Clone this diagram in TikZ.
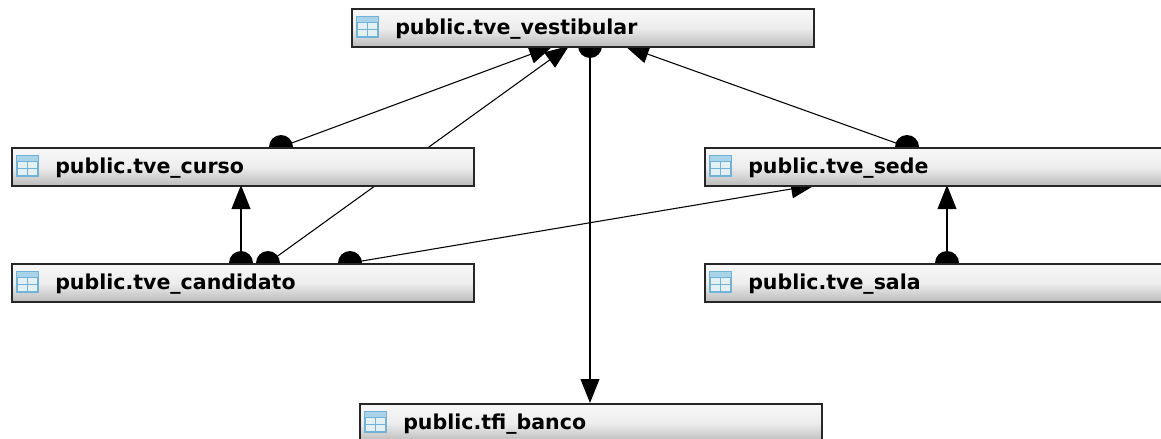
\documentclass[tikz,border=0pt]{standalone}
\usepackage{fontspec}
\setmainfont{DejaVu Sans}
\usetikzlibrary{arrows.meta,backgrounds,calc}
\definecolor{iconblue}{HTML}{6FB4D8}
\definecolor{iconfill}{HTML}{E4F0F2}
\definecolor{iconhead}{HTML}{A9D3E8}
\definecolor{edgecol}{HTML}{262626}
\tikzset{
  x=0.75pt,y=-0.75pt,
  tablebox/.style={draw=edgecol,line width=1.6pt,anchor=north west,rectangle,
    minimum height=28.5pt,minimum width=346.5pt,inner sep=0pt,
    top color=black!3,bottom color=black!27,middle color=black!7},
  tablelabel/.style={anchor=west,inner sep=0pt,text=black,
    font=\fontsize{15.4pt}{17pt}\selectfont\bfseries},
  link/.style={draw=black,line width=0.8pt},
  strong/.style={draw=black,line width=1.3pt},
  head/.style={-{Triangle[length=18pt,width=14pt]}},
  dot/.style={fill=black}
}
\newcommand{\tblicon}[1]{%
  \begin{scope}[shift={($(#1.north west)+(6,9)$)}]
    \filldraw[draw=iconblue,fill=iconfill,line width=0.9pt] (0,0) rectangle (21,20);
    \fill[iconhead] (0,0) rectangle (21,5);
    \draw[iconblue,line width=0.7pt] (0,5) -- (21,5) (0,12.5) -- (21,12.5) (10.5,5) -- (10.5,20);
  \end{scope}}
\begin{document}
\begin{tikzpicture}
\useasboundingbox (0,0) rectangle (1161,439);
\node[tablebox] (vest) at (351,8) {};
\node[tablebox] (curso) at (11,147) {};
\node[tablebox] (cand) at (11,263) {};
\node[tablebox] (sede) at (704,147) {};
\node[tablebox] (sala) at (704,263) {};
\node[tablebox] (banco) at (359,403) {};
\foreach \n/\t in {vest/public.tve\_vestibular,curso/public.tve\_curso,cand/public.tve\_candidato,sede/public.tve\_sede,sala/public.tve\_sala,banco/public.tfi\_banco}{
  \node[tablelabel] (label-\n) at ($(\n.north west)+(44,21)$) {\t};
  \tblicon{\n}
}
\coordinate (vestA) at ($(vest.north west)+(202,38)$);
\coordinate (vestB) at ($(vest.north west)+(218,38)$);
\coordinate (vestC) at ($(vest.north west)+(239,38)$);
\coordinate (vestD) at ($(vest.north west)+(274,38)$);
\coordinate (cursoT) at ($(curso.north west)+(270,0)$);
\coordinate (cursoB) at ($(curso.north west)+(230,38)$);
\coordinate (candA) at ($(cand.north west)+(230,0)$);
\coordinate (candB) at ($(cand.north west)+(257,0)$);
\coordinate (candC) at ($(cand.north west)+(339,0)$);
\coordinate (sedeT) at ($(sede.north west)+(203,0)$);
\coordinate (sedeL) at ($(sede.north west)+(111,38)$);
\coordinate (sedeB) at ($(sede.north west)+(243,38)$);
\coordinate (salaT) at ($(sala.north west)+(243,0)$);
\coordinate (bancoT) at ($(banco.north west)+(231,0)$);
\begin{scope}[on background layer]
\fill[white] (0,0) rectangle (1161,439);
\draw[link,head] (cursoT) -- (vestA);
\draw[link,head] (candB) -- (vestB);
\draw[strong,head] (vestC) -- (bancoT);
\draw[link,head] (sedeT) -- (vestD);
\draw[link,head] (candC) -- (sedeL);
\draw[strong,head] (candA) -- (cursoB);
\draw[strong,head] (salaT) -- (sedeB);
\foreach \c in {vestC,cursoT,candA,candB,candC,sedeT,salaT}{\fill[dot] (\c) circle[radius=9pt];}
\end{scope}
\end{tikzpicture}
\end{document}
